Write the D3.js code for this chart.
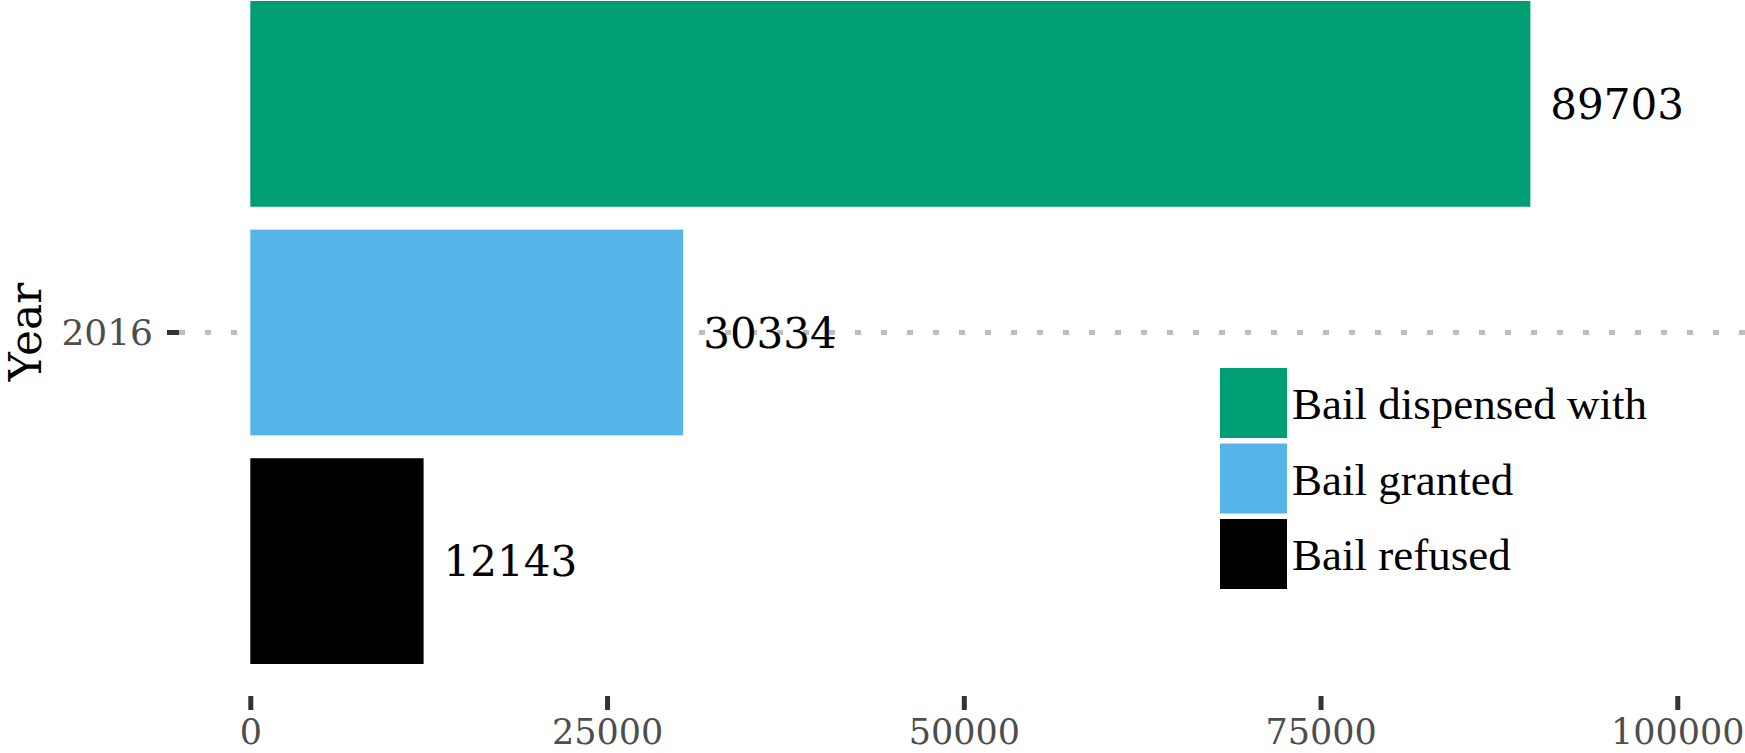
<!DOCTYPE html>
<html>
<head>
<meta charset="utf-8">
<script src="https://cdn.jsdelivr.net/npm/d3@7"></script>
<style>
  body { margin: 0; background: #fff; }
  svg { display: block; }
</style>
</head>
<body>
<svg id="chart" width="1745" height="753"></svg>
<script>
// Data
const years = ["2016"];
const series = ["Bail dispensed with", "Bail granted", "Bail refused"];
const values = [89703, 30334, 12143];
const colors = ["#009E73", "#56B4E9", "#000000"];
const xTicks = [0, 25000, 50000, 75000, 100000];

let svg = d3.select("#chart");
let width = +svg.attr("width");

// scales
let x = d3.scaleLinear().domain([0, 100000]).range([250.3, 1677.3]);
let y = d3.scaleBand().domain(years).range([1, 664]).padding(0);
let yInner = d3.scaleBand().domain(series).range([0, y.bandwidth()]).paddingInner(0.1).paddingOuter(0);

// dashed grid line for each year
svg.selectAll(".grid")
    .data(years)
    .enter()
    .append("line")
    .attr("class", "grid")
    .attr("x1", 179)
    .attr("x2", width)
    .attr("y1", d => y(d) + y.bandwidth() / 2)
    .attr("y2", d => y(d) + y.bandwidth() / 2)
    .attr("stroke", "#bebebe")
    .attr("stroke-width", 5)
    .attr("stroke-dasharray", "6,20");

// bars
let rows = series.map((s, i) => ({year: years[0], name: s, value: values[i], color: colors[i]}));

let barG = svg.append("g");
barG.selectAll("rect")
    .data(rows)
    .enter()
    .append("rect")
    .attr("x", x(0))
    .attr("y", d => y(d.year) + yInner(d.name))
    .attr("width", d => x(d.value) - x(0))
    .attr("height", yInner.bandwidth())
    .attr("fill", d => d.color);

// value labels
barG.selectAll(".val")
    .data(rows)
    .enter()
    .append("text")
    .attr("class", "val")
    .attr("x", d => x(d.value) + 20)
    .attr("y", d => y(d.year) + yInner(d.name) + yInner.bandwidth() / 2 + 15)
    .style("font-family", "DejaVu Serif")
    .style("font-size", "42px")
    .attr("fill", "#000")
    .text(d => d.value);

// x axis
let xAxis = d3.axisBottom(x).tickValues(xTicks).tickSize(14).tickPadding(0).tickFormat(d3.format("d"));
let xAxisG = svg.append("g")
    .attr("transform", "translate(0, 696)")
    .call(xAxis);
xAxisG.select(".domain").remove();
xAxisG.selectAll(".tick line").attr("stroke", "#333").attr("stroke-width", 5);
xAxisG.selectAll(".tick text")
    .attr("y", 48)
    .attr("dy", null)
    .style("font-family", "DejaVu Serif")
    .style("font-size", "35px")
    .attr("fill", "#4d4d4d");

// y axis
let yAxis = d3.axisLeft(y).tickSize(12).tickPadding(14);
let yAxisG = svg.append("g")
    .attr("transform", "translate(179, 0)")
    .call(yAxis);
yAxisG.select(".domain").remove();
yAxisG.selectAll(".tick line").attr("stroke", "#333").attr("stroke-width", 5);
yAxisG.selectAll(".tick text")
    .attr("dy", "0.35em")
    .style("font-family", "DejaVu Serif")
    .style("font-size", "36px")
    .attr("fill", "#4d4d4d");

// y axis title
svg.append("text")
    .attr("transform", "translate(41, 332) rotate(-90)")
    .attr("text-anchor", "middle")
    .style("font-family", "DejaVu Serif")
    .style("font-size", "44px")
    .attr("fill", "#000")
    .text("Year");

// legend
let legend = svg.append("g").attr("transform", "translate(1220, 368)");
let items = legend.selectAll(".item")
    .data(series)
    .enter()
    .append("g")
    .attr("class", "item")
    .attr("transform", (d, i) => `translate(0, ${i * 75.5})`);
items.append("rect")
    .attr("width", 67)
    .attr("height", 70)
    .attr("fill", (d, i) => colors[i]);
items.append("text")
    .attr("x", 72)
    .attr("y", 51)
    .style("font-family", "Liberation Serif")
    .style("font-size", "45px")
    .attr("fill", "#000")
    .text(d => d);
</script>
</body>
</html>
